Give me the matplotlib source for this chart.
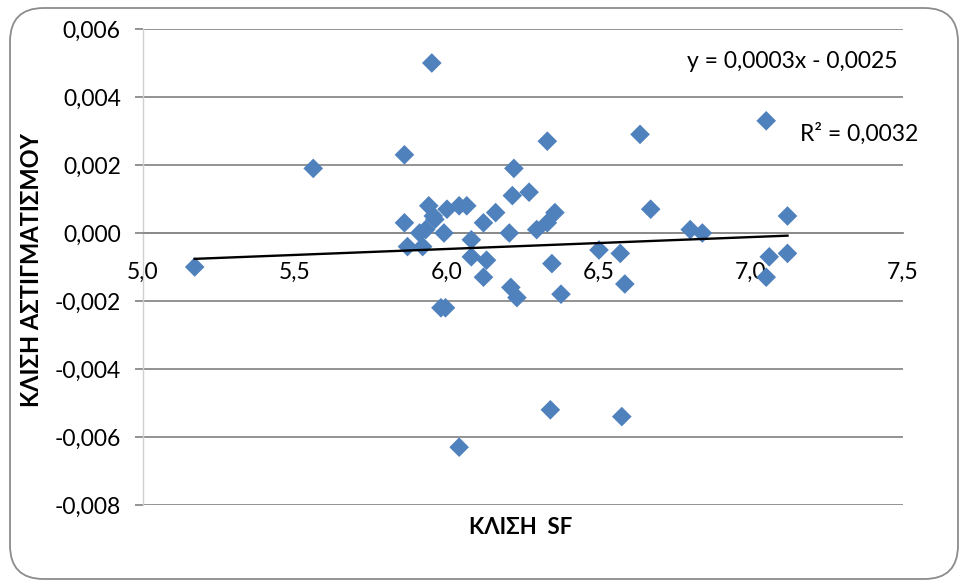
import matplotlib
matplotlib.use("Agg")
import matplotlib.pyplot as plt
from matplotlib.patches import FancyBboxPatch
import numpy as np

# ---- data ----
sf_slope = [5.17, 5.56, 5.95, 5.86, 5.86, 5.87, 5.92, 5.94, 5.93, 5.96, 5.955, 5.91,
            5.99, 6.00, 6.04, 6.065, 5.98, 5.995, 6.08, 6.08, 6.12, 6.16, 6.13, 6.12,
            6.21, 6.23, 6.22, 6.215, 6.27, 6.205, 6.33, 6.295, 6.33, 6.355, 6.345, 6.375,
            6.635, 7.05, 6.67, 7.12, 6.80, 6.84, 6.50, 6.57, 6.585, 7.06, 7.12, 7.05,
            6.34, 6.575, 6.04]
astig_slope = [-0.0010, 0.0019, 0.0050, 0.0023, 0.0003, -0.0004, -0.0004, 0.0008, 0.0001,
               0.0004, 0.0005, 0.0000, 0.0000, 0.0007, 0.0008, 0.0008, -0.0022, -0.0022,
               -0.0002, -0.0007, 0.0003, 0.0006, -0.0008, -0.0013, -0.0016, -0.0019, 0.0019,
               0.0011, 0.0012, 0.0000, 0.0027, 0.0001, 0.0003, 0.0006, -0.0009, -0.0018,
               0.0029, 0.0033, 0.0007, 0.0005, 0.0001, 0.0000, -0.0005, -0.0006, -0.0015,
               -0.0007, -0.0006, -0.0013, -0.0052, -0.0054, -0.0063]
trend_slope = 0.00035
trend_intercept = -0.00257
x_ticks = [5.0, 5.5, 6.0, 6.5, 7.0, 7.5]
x_tick_labels = ["5,0", "5,5", "6,0", "6,5", "7,0", "7,5"]
y_ticks = [-0.008, -0.006, -0.004, -0.002, 0.0, 0.002, 0.004, 0.006]
y_tick_labels = ["-0,008", "-0,006", "-0,004", "-0,002", "0,000", "0,002", "0,004", "0,006"]
eq_text = "y = 0,0003x - 0,0025"
r2_text = "R² = 0,0032"
x_title = "ΚΛΙΣΗ  SF"
y_title = "ΚΛΙΣΗ ΑΣΤΙΓΜΑΤΙΣΜΟΥ"

plt.rcParams['font.family'] = ['Lato', 'DejaVu Sans']

W, H = 962, 583
fig = plt.figure(figsize=(W / 100, H / 100), dpi=100, facecolor="white")

# rounded chart border
border = FancyBboxPatch((10 / W, 4 / H), (948) / W, (571) / H,
                        boxstyle="round,pad=0,rounding_size=0.035",
                        transform=fig.transFigure, facecolor="none",
                        edgecolor="#8c8c8c", linewidth=1.3, mutation_aspect=W / H,
                        zorder=-5)
fig.patches.append(border)

ax = fig.add_axes([143 / W, 1 - 505 / H, (903 - 143) / W, (505 - 29) / H])
ax.set_facecolor("none")

for s in ["top", "right"]:
    ax.spines[s].set_visible(False)
ax.spines["bottom"].set_position(("data", 0))
ax.spines["left"].set_color("#d0d0d0")
ax.spines["left"].set_linewidth(1.0)
ax.spines["bottom"].set_color("#8a8a8a")
ax.spines["bottom"].set_linewidth(1.3)

ax.set_xlim(5.0, 7.5)
ax.set_ylim(-0.008, 0.006)

ax.set_yticks(y_ticks)
ax.set_yticklabels(y_tick_labels, fontsize=16.5, color="black")
ax.set_xticks(x_ticks)
ax.set_xticklabels(x_tick_labels, fontsize=16.5, color="black")

ax.grid(axis="y", color="#8a8a8a", linewidth=1.3)
ax.set_axisbelow(True)

ax.tick_params(axis="y", length=6, width=1.3, color="#8a8a8a", pad=10)
ax.tick_params(axis="x", length=0, pad=21)

ax.scatter(sf_slope, astig_slope, marker="D", s=10 ** 2, color="#4F81BD",
           edgecolors="none", zorder=3)

xs = np.array([min(sf_slope), max(sf_slope)])
ax.plot(xs, trend_slope * xs + trend_intercept, color="black", linewidth=1.7, zorder=4)

ax.text(898 / W, 1 - 62 / H, eq_text, transform=fig.transFigure, fontsize=16.5,
        ha="right", va="center")
ax.text(800 / W, 1 - 134 / H, r2_text, transform=fig.transFigure, fontsize=16.5,
        ha="left", va="center")

fig.text(521 / W, 1 - 528 / H, x_title, fontsize=16, fontweight="bold",
         ha="center", va="center")
fig.text(32 / W, 1 - 270 / H, y_title, fontsize=17, fontweight="bold",
         ha="center", va="center", rotation=90)

fig.savefig("out.png", dpi=100)
